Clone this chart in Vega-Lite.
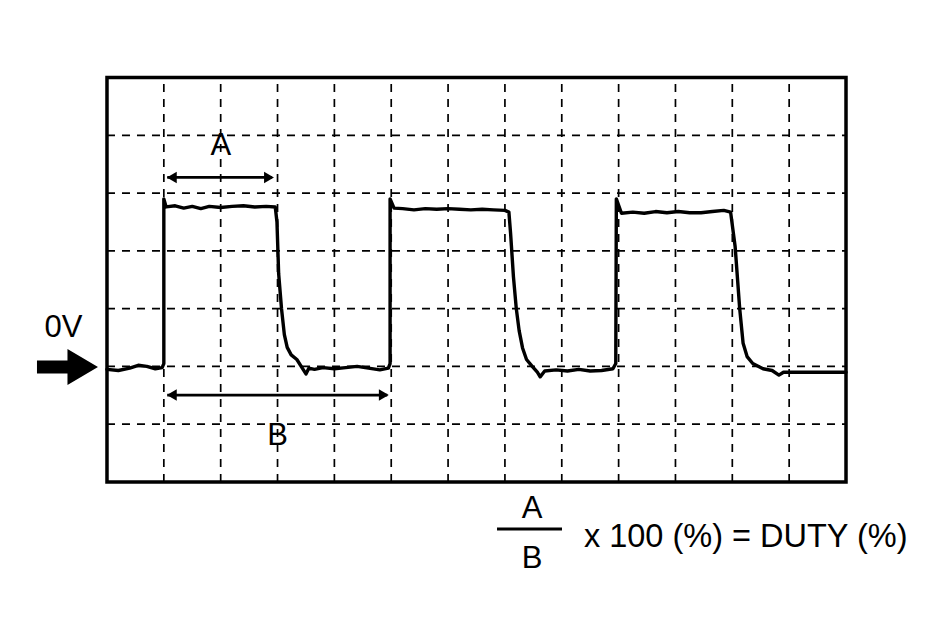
{
  "$schema": "https://vega.github.io/schema/vega-lite/v6.json",
  "width": 941,
  "height": 643,
  "autosize": {"type": "fit", "contains": "padding"},
  "padding": 0,
  "background": "white",
  "config": {"view": {"stroke": null}},
  "datasets": {
    "signal": [
      {"i":1,"x":0,"y":1.95},{"i":2,"x":0.2,"y":1.93},{"i":3,"x":0.4,"y":1.97},{"i":4,"x":0.55,"y":2.02},{"i":5,"x":0.7,"y":2.0},{"i":6,"x":0.85,"y":1.96},{"i":7,"x":0.97,"y":1.98},{"i":8,"x":1.0,"y":2.05},{"i":9,"x":1.0,"y":4.9},{"i":10,"x":1.04,"y":4.76},
      {"i":11,"x":1.2,"y":4.78},{"i":12,"x":1.35,"y":4.74},{"i":13,"x":1.5,"y":4.77},{"i":14,"x":1.65,"y":4.73},{"i":15,"x":1.8,"y":4.77},{"i":16,"x":2.0,"y":4.75},{"i":17,"x":2.2,"y":4.77},{"i":18,"x":2.4,"y":4.78},{"i":19,"x":2.6,"y":4.76},{"i":20,"x":2.8,"y":4.77},{"i":21,"x":2.96,"y":4.76},
      {"i":22,"x":2.99,"y":4.5},{"i":23,"x":3.02,"y":3.6},{"i":24,"x":3.07,"y":3.0},{"i":25,"x":3.12,"y":2.55},{"i":26,"x":3.17,"y":2.33},{"i":27,"x":3.24,"y":2.2},{"i":28,"x":3.34,"y":2.12},{"i":29,"x":3.43,"y":1.98},{"i":30,"x":3.5,"y":1.87},{"i":31,"x":3.55,"y":1.97},{"i":32,"x":3.65,"y":1.95},{"i":33,"x":3.8,"y":1.98},{"i":34,"x":4.0,"y":1.96},{"i":35,"x":4.2,"y":1.98},{"i":36,"x":4.4,"y":2.0},{"i":37,"x":4.6,"y":1.97},{"i":38,"x":4.8,"y":1.94},{"i":39,"x":4.95,"y":1.97},{"i":40,"x":4.98,"y":2.05},
      {"i":41,"x":4.98,"y":4.9},{"i":42,"x":5.05,"y":4.74},{"i":43,"x":5.2,"y":4.73},{"i":44,"x":5.4,"y":4.71},{"i":45,"x":5.6,"y":4.73},{"i":46,"x":5.8,"y":4.72},{"i":47,"x":6.0,"y":4.73},{"i":48,"x":6.2,"y":4.72},{"i":49,"x":6.4,"y":4.71},{"i":50,"x":6.6,"y":4.72},{"i":51,"x":6.8,"y":4.71},{"i":52,"x":7.0,"y":4.7},{"i":53,"x":7.07,"y":4.67},
      {"i":54,"x":7.1,"y":4.3},{"i":55,"x":7.15,"y":3.55},{"i":56,"x":7.2,"y":3.0},{"i":57,"x":7.25,"y":2.62},{"i":58,"x":7.31,"y":2.32},{"i":59,"x":7.38,"y":2.12},{"i":60,"x":7.48,"y":2.0},{"i":61,"x":7.57,"y":1.9},{"i":62,"x":7.62,"y":1.82},{"i":63,"x":7.7,"y":1.92},{"i":64,"x":7.9,"y":1.94},{"i":65,"x":8.1,"y":1.92},{"i":66,"x":8.3,"y":1.95},{"i":67,"x":8.5,"y":1.92},{"i":68,"x":8.7,"y":1.93},{"i":69,"x":8.9,"y":1.96},{"i":70,"x":8.95,"y":2.05},
      {"i":71,"x":8.96,"y":4.9},{"i":72,"x":9.05,"y":4.65},{"i":73,"x":9.25,"y":4.67},{"i":74,"x":9.45,"y":4.65},{"i":75,"x":9.65,"y":4.68},{"i":76,"x":9.85,"y":4.66},{"i":77,"x":10.05,"y":4.68},{"i":78,"x":10.25,"y":4.66},{"i":79,"x":10.45,"y":4.66},{"i":80,"x":10.65,"y":4.68},{"i":81,"x":10.85,"y":4.7},{"i":82,"x":10.97,"y":4.67},
      {"i":83,"x":11.05,"y":4.07},{"i":84,"x":11.13,"y":3.0},{"i":85,"x":11.19,"y":2.4},{"i":86,"x":11.26,"y":2.17},{"i":87,"x":11.36,"y":2.05},{"i":88,"x":11.54,"y":1.96},{"i":89,"x":11.7,"y":1.93},{"i":90,"x":11.82,"y":1.85},{"i":91,"x":11.9,"y":1.9},{"i":92,"x":12.2,"y":1.9},{"i":93,"x":12.6,"y":1.9},{"i":94,"x":13,"y":1.9}
    ],
    "vgrid": [{"x":1},{"x":2},{"x":3},{"x":4},{"x":5},{"x":6},{"x":7},{"x":8},{"x":9},{"x":10},{"x":11},{"x":12}],
    "hgrid": [{"y":1},{"y":2},{"y":3},{"y":4},{"y":5},{"y":6}],
    "arrows": [{"name":"A","x":1.06,"x2":2.9,"y":5.27},{"name":"B","x":1.06,"x2":4.93,"y":1.505}],
    "heads": [{"x":1.14,"y":5.27,"dir":"left"},{"x":2.85,"y":5.27,"dir":"right"},{"x":1.14,"y":1.505,"dir":"left"},{"x":4.87,"y":1.505,"dir":"right"}],
    "labels": [{"label":"A","x":2.005,"y":5.657},{"label":"B","x":3.0,"y":0.64},{"label":"0V","x":-0.765,"y":2.51},{"label":"A","x":7.476,"y":-0.623},{"label":"B","x":7.476,"y":-1.488}],
    "formula": [{"label":"x 100 (%) = DUTY (%)","x":8.39,"y":-1.125}],
    "bar": [{"x":6.861,"x2":8.004,"y":-0.813}],
    "zero": [{"x":-0.695,"y":1.99}],
    "frame": [{"x":0,"x2":13,"y":0,"y2":7}]
  },
  "layer": [
    {
      "data": {"name": "vgrid"},
      "mark": {"type": "rule", "stroke": "black", "strokeWidth": 1.7, "strokeDash": [8, 7]},
      "encoding": {
        "x": {"field": "x", "type": "quantitative", "scale": {"domain": [-1.882, 14.671], "nice": false, "zero": false}, "axis": null},
        "y": {"datum": 0, "type": "quantitative", "scale": {"domain": [-2.786, 8.341], "nice": false, "zero": false}, "axis": null},
        "y2": {"datum": 7}
      }
    },
    {
      "data": {"name": "hgrid"},
      "mark": {"type": "rule", "stroke": "black", "strokeWidth": 1.7, "strokeDash": [8, 7]},
      "encoding": {
        "y": {"field": "y", "type": "quantitative", "scale": {"domain": [-2.786, 8.341], "nice": false, "zero": false}, "axis": null},
        "x": {"datum": 0, "type": "quantitative", "scale": {"domain": [-1.882, 14.671], "nice": false, "zero": false}, "axis": null},
        "x2": {"datum": 13}
      }
    },
    {
      "data": {"name": "frame"},
      "mark": {"type": "rect", "fill": null, "stroke": "black", "strokeWidth": 3.5},
      "encoding": {
        "x": {"field": "x", "type": "quantitative", "scale": {"domain": [-1.882, 14.671], "nice": false, "zero": false}, "axis": null},
        "x2": {"field": "x2"},
        "y": {"field": "y", "type": "quantitative", "scale": {"domain": [-2.786, 8.341], "nice": false, "zero": false}, "axis": null},
        "y2": {"field": "y2"}
      }
    },
    {
      "data": {"name": "signal"},
      "mark": {"type": "line", "stroke": "black", "strokeWidth": 3.4, "strokeJoin": "round", "strokeCap": "round"},
      "encoding": {
        "x": {"field": "x", "type": "quantitative", "scale": {"domain": [-1.882, 14.671], "nice": false, "zero": false}, "axis": null},
        "y": {"field": "y", "type": "quantitative", "scale": {"domain": [-2.786, 8.341], "nice": false, "zero": false}, "axis": null},
        "order": {"field": "i", "type": "quantitative"}
      }
    },
    {
      "data": {"name": "arrows"},
      "mark": {"type": "rule", "stroke": "black", "strokeWidth": 2.8},
      "encoding": {
        "x": {"field": "x", "type": "quantitative", "scale": {"domain": [-1.882, 14.671], "nice": false, "zero": false}, "axis": null},
        "x2": {"field": "x2"},
        "y": {"field": "y", "type": "quantitative", "scale": {"domain": [-2.786, 8.341], "nice": false, "zero": false}, "axis": null}
      }
    },
    {
      "data": {"name": "heads"},
      "mark": {"type": "point", "filled": true, "fill": "black", "opacity": 1, "size": 130, "strokeWidth": 0},
      "encoding": {
        "x": {"field": "x", "type": "quantitative", "scale": {"domain": [-1.882, 14.671], "nice": false, "zero": false}, "axis": null},
        "y": {"field": "y", "type": "quantitative", "scale": {"domain": [-2.786, 8.341], "nice": false, "zero": false}, "axis": null},
        "shape": {"field": "dir", "type": "nominal", "scale": {"domain": ["left", "right"], "range": ["triangle-left", "triangle-right"]}, "legend": null}
      }
    },
    {
      "data": {"name": "bar"},
      "mark": {"type": "rule", "stroke": "black", "strokeWidth": 3},
      "encoding": {
        "x": {"field": "x", "type": "quantitative", "scale": {"domain": [-1.882, 14.671], "nice": false, "zero": false}, "axis": null},
        "x2": {"field": "x2"},
        "y": {"field": "y", "type": "quantitative", "scale": {"domain": [-2.786, 8.341], "nice": false, "zero": false}, "axis": null}
      }
    },
    {
      "data": {"name": "zero"},
      "mark": {"type": "point", "filled": true, "fill": "black", "opacity": 1, "strokeWidth": 0, "size": 3721, "shape": "M -1 -0.21 L 0 -0.21 L 0 -0.59 L 1 0 L 0 0.59 L 0 0.21 L -1 0.21 Z"},
      "encoding": {
        "x": {"field": "x", "type": "quantitative", "scale": {"domain": [-1.882, 14.671], "nice": false, "zero": false}, "axis": null},
        "y": {"field": "y", "type": "quantitative", "scale": {"domain": [-2.786, 8.341], "nice": false, "zero": false}, "axis": null}
      }
    },
    {
      "data": {"name": "labels"},
      "mark": {"type": "text", "font": "Liberation Sans", "fontSize": 31, "align": "center", "baseline": "alphabetic", "fill": "black"},
      "encoding": {
        "x": {"field": "x", "type": "quantitative", "scale": {"domain": [-1.882, 14.671], "nice": false, "zero": false}, "axis": null},
        "y": {"field": "y", "type": "quantitative", "scale": {"domain": [-2.786, 8.341], "nice": false, "zero": false}, "axis": null},
        "text": {"field": "label"}
      }
    },
    {
      "data": {"name": "formula"},
      "mark": {"type": "text", "font": "Liberation Sans", "fontSize": 32.5, "align": "left", "baseline": "alphabetic", "fill": "black"},
      "encoding": {
        "x": {"field": "x", "type": "quantitative", "scale": {"domain": [-1.882, 14.671], "nice": false, "zero": false}, "axis": null},
        "y": {"field": "y", "type": "quantitative", "scale": {"domain": [-2.786, 8.341], "nice": false, "zero": false}, "axis": null},
        "text": {"field": "label"}
      }
    }
  ]
}
